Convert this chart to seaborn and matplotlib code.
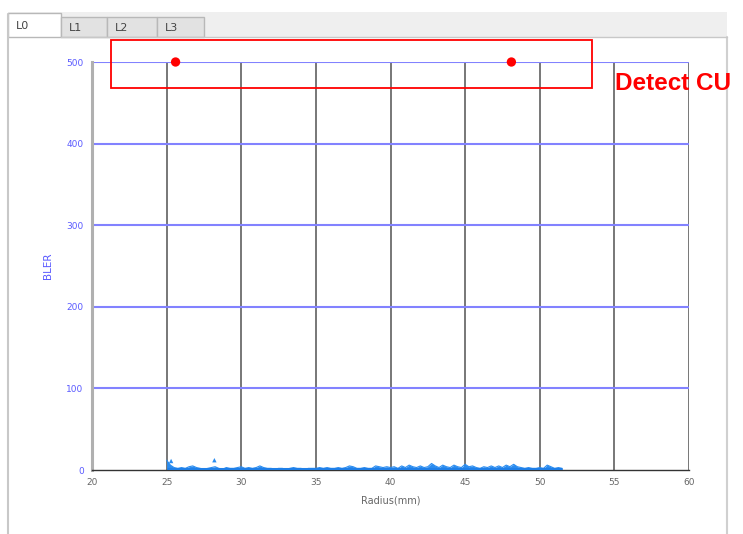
import matplotlib
matplotlib.use("Agg")
import matplotlib.pyplot as plt
import seaborn as sns
import pandas as pd
from matplotlib.patches import Rectangle

# BLER trace along radius
radius = [25.00, 25.25, 25.50, 25.75, 26.00, 26.25, 26.50, 26.75, 27.00, 27.25,
          27.50, 27.75, 28.00, 28.25, 28.50, 28.75, 29.00, 29.25, 29.50, 29.75,
          30.00, 30.25, 30.50, 30.75, 31.00, 31.25, 31.50, 31.75, 32.00, 32.25,
          32.50, 32.75, 33.00, 33.25, 33.50, 33.75, 34.00, 34.25, 34.50, 34.75,
          35.00, 35.25, 35.50, 35.75, 36.00, 36.25, 36.50, 36.75, 37.00, 37.25,
          37.50, 37.75, 38.00, 38.25, 38.50, 38.75, 39.00, 39.25, 39.50, 39.75,
          40.00, 40.25, 40.50, 40.75, 41.00, 41.25, 41.50, 41.75, 42.00, 42.25,
          42.50, 42.75, 43.00, 43.25, 43.50, 43.75, 44.00, 44.25, 44.50, 44.75,
          45.00, 45.25, 45.50, 45.75, 46.00, 46.25, 46.50, 46.75, 47.00, 47.25,
          47.50, 47.75, 48.00, 48.25, 48.50, 48.75, 49.00, 49.25, 49.50, 49.75,
          50.00, 50.25, 50.50, 50.75, 51.00, 51.25, 51.50]
bler = [12, 6, 3, 2, 3, 2, 4, 5, 3, 2,
        1, 2, 3, 4, 2, 1, 3, 2, 2, 3,
        4, 2, 3, 2, 3, 5, 3, 2, 2, 1,
        2, 2, 1, 2, 3, 2, 2, 1, 2, 2,
        2, 3, 2, 3, 2, 2, 3, 2, 3, 5,
        4, 2, 2, 3, 2, 2, 5, 4, 3, 4,
        3, 4, 2, 5, 3, 6, 4, 3, 5, 3,
        4, 8, 5, 3, 6, 4, 3, 6, 4, 3,
        7, 4, 5, 3, 2, 4, 3, 5, 3, 5,
        3, 6, 4, 7, 4, 3, 2, 3, 2, 2,
        3, 2, 6, 4, 2, 3, 2]

# isolated spikes
spike_x = [25.3, 28.2]
spike_y = [11, 12]

# detected CU points
cu_x = [25.6, 48.1]
cu_y = [500, 500]

xticks = [20, 25, 30, 35, 40, 45, 50, 55, 60]
yticks = [0, 100, 200, 300, 400, 500]

df = pd.DataFrame({"radius": radius, "bler": bler})

sns.set_style("white")
fig = plt.figure(figsize=(7.43, 5.34), dpi=100)

# GUI tab frame around the chart
W, H = 743, 534
def fx(px): return px / W
def fy(py): return 1 - py / H

fig.patches.append(Rectangle((fx(8), fy(37)), fx(727) - fx(8), fy(12) - fy(37),
                             transform=fig.transFigure, facecolor="#efefef",
                             edgecolor="none", zorder=0))
fig.lines.append(plt.Line2D([fx(8), fx(8)], [fy(14), 0], transform=fig.transFigure,
                            color="#c8c8c8", lw=1.5))
fig.lines.append(plt.Line2D([fx(727), fx(727)], [fy(37), 0], transform=fig.transFigure,
                            color="#d0d0d0", lw=1.5))
fig.lines.append(plt.Line2D([fx(61), fx(727)], [fy(37), fy(37)], transform=fig.transFigure,
                            color="#c8c8c8", lw=1))
tabs = [("L0", 8, 61, 13), ("L1", 61, 107, 17), ("L2", 107, 157, 17), ("L3", 157, 204, 17)]
for i, (name, x0, x1, y0) in enumerate(tabs):
    face = "white" if i == 0 else "#e2e2e2"
    fig.patches.append(Rectangle((fx(x0), fy(37)), fx(x1) - fx(x0), fy(y0) - fy(37),
                                 transform=fig.transFigure, facecolor=face,
                                 edgecolor="#b8b8b8", lw=1, zorder=1))
    fig.text(fx(x0 + 8), fy((y0 + 37) / 2 + 1), name, fontsize=8, color="#444444",
             va="center", ha="left")

ax = fig.add_axes([fx(92), fy(470), fx(689) - fx(92), fy(62) - fy(470)])

# grid
for x in xticks[1:]:
    ax.axvline(x, color="#606060", lw=1.2, zorder=1)
for y in yticks[1:]:
    ax.axhline(y, color="#8282ff", lw=1.5, zorder=1)

ax.fill_between(df["radius"], 0, df["bler"], color="#2a8cf0", lw=0, zorder=2)
sns.lineplot(data=df, x="radius", y="bler", ax=ax, color="#2a8cf0", lw=0.8, zorder=3)
ax.plot([radius[0], radius[-1]], [1.0, 1.0], color="#1f7fe8", lw=2.2, zorder=3,
        solid_capstyle="butt")
sns.scatterplot(x=spike_x, y=spike_y, ax=ax, color="#2a8cf0", s=10, marker="^",
                edgecolor="none", zorder=3)
sns.scatterplot(x=cu_x, y=cu_y, ax=ax, color="#ff0000", s=45, edgecolor="none",
                zorder=5, clip_on=False)

ax.set_xlim(20, 60)
ax.set_ylim(0, 500)
ax.set_xticks(xticks)
ax.set_yticks(yticks)
ax.set_xticklabels([str(t) for t in xticks], fontsize=6.5, color="#666666")
ax.set_yticklabels([str(t) for t in yticks], fontsize=6.5, color="#5a5aff")
ax.tick_params(axis="both", length=4, width=1, color="#555555", pad=2)
ax.set_xlabel("Radius(mm)", fontsize=7, color="#666666", labelpad=6)
ax.set_ylabel("BLER", fontsize=7.5, color="#5a5aff", labelpad=10)

for side in ["top", "right"]:
    ax.spines[side].set_visible(False)
ax.spines["left"].set_color("#b0b0b0")
ax.spines["left"].set_linewidth(2.2)
ax.spines["bottom"].set_color("#333333")
ax.spines["bottom"].set_linewidth(1)

# annotation box and label
fig.patches.append(Rectangle((fx(111), fy(88)), fx(592) - fx(111), fy(40) - fy(88),
                             transform=fig.transFigure, facecolor="none",
                             edgecolor="#ff0000", lw=1.3, zorder=10))
fig.text(fx(615), fy(83), "Detect CU", fontsize=17.5, fontweight="bold",
         family="Liberation Sans", color="#ff0000", va="center", ha="left")

fig.savefig("out.png", dpi=100)
